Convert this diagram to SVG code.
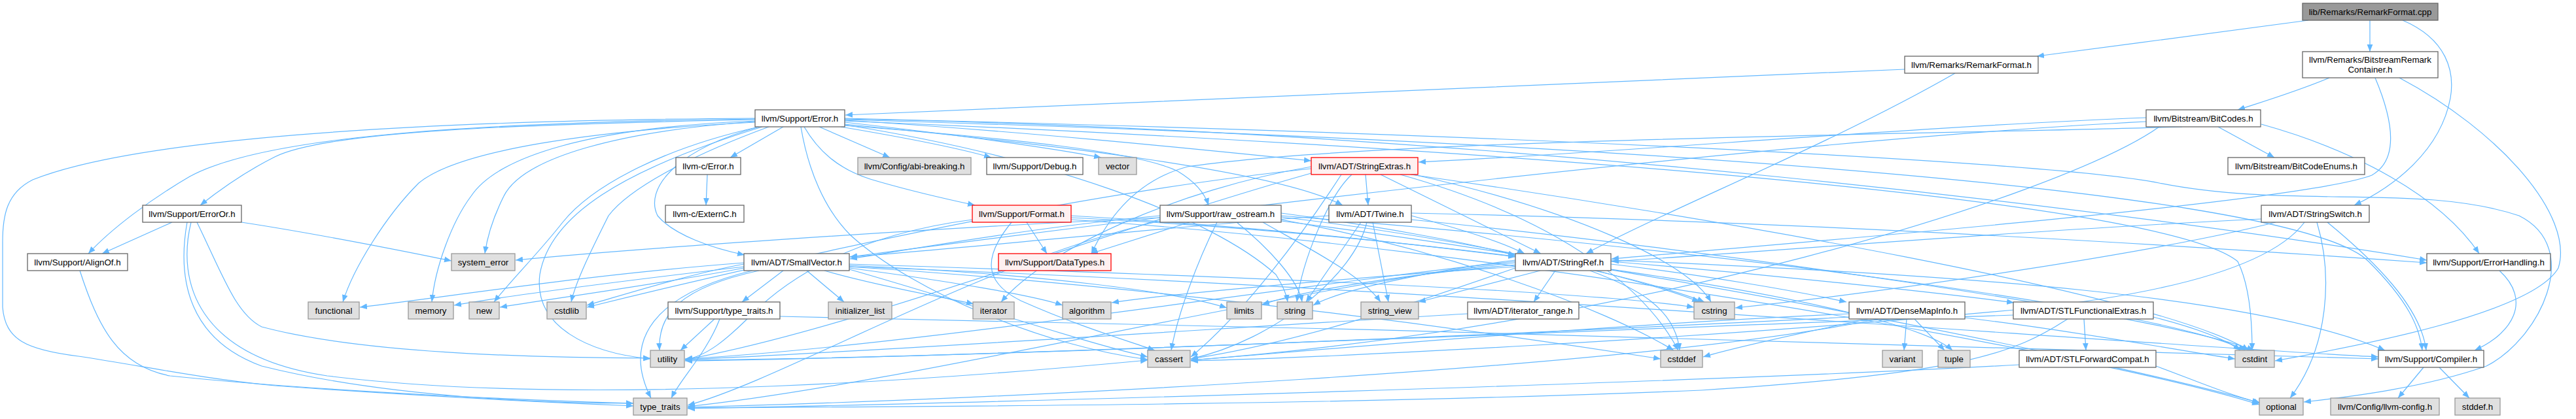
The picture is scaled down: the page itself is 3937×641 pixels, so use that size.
<svg xmlns="http://www.w3.org/2000/svg" width="3937" height="641" viewBox="0 0 3937 641">
<style>
rect{stroke-width:1.3}
.n rect{fill:#ffffff;stroke:#666666}
.g rect{fill:#e0e0e0;stroke:#999999}
.r rect{fill:#fff0f0;stroke:#ff0000}
.root rect{fill:#999999;stroke:#666666}
text{font-family:"Liberation Sans",Arial,sans-serif;font-size:13.3px;text-anchor:middle;fill:#000}
#edges path{fill:none;stroke:#63b8ff;stroke-width:1.2;marker-end:url(#a)}
</style>
<defs>
<marker id="a" viewBox="0 0 10 10" refX="10" refY="5" markerWidth="11" markerHeight="11" markerUnits="userSpaceOnUse" orient="auto"><path d="M0,1 L10,5 L0,9 z" fill="#63b8ff" stroke="none"/></marker>
</defs>
<rect width="3937" height="641" fill="#ffffff"/>
<g id="edges">
<path d="M3528,31 C3400,48 3250,68 3113,86"/>
<path d="M3622,31 L3622,79"/>
<path d="M3672,31 C3740,60 3752,110 3745,150 C3730,230 3660,285 3598,314"/>
<path d="M2911,106 C2400,128 1700,158 1292,176"/>
<path d="M2988,112 C2800,220 2550,320 2424,388"/>
<path d="M3560,119 C3510,140 3460,155 3420,168"/>
<path d="M3630,119 C3660,190 3665,245 3625,268 C3520,310 2700,375 2463,396"/>
<path d="M3667,119 C3820,200 3935,330 3910,410 C3870,480 3600,530 3477,552"/>
<path d="M3280,180 C2900,195 2500,232 2168,248"/>
<path d="M3280,186 C2700,215 1700,340 1299,393"/>
<path d="M3390,194 L3476,241"/>
<path d="M3335,194 C3000,205 2100,212 1815,255 C1740,275 1695,330 1668,388"/>
<path d="M3456,190 C3600,230 3730,300 3789,388"/>
<path d="M3300,194 C3150,300 2500,500 1820,551"/>
<path d="M3456,335 C3100,352 2700,385 2463,400"/>
<path d="M3478,340 C3300,385 2900,445 2652,471"/>
<path d="M3522,340 C3470,410 3300,450 3100,472 C2600,520 2000,548 1820,552"/>
<path d="M3541,340 C3565,420 3560,530 3500,609"/>
<path d="M3557,340 C3630,400 3700,470 3708,536"/>
<path d="M1197,194 L1116,241"/>
<path d="M1252,194 L1360,241"/>
<path d="M1285,194 C1380,210 1460,225 1515,241"/>
<path d="M1291,187 C1450,205 1600,225 1683,241"/>
<path d="M1291,184 C1550,200 1800,225 2004,246"/>
<path d="M1291,190 C1600,220 1950,260 2052,314"/>
<path d="M1291,192 C1550,212 1740,232 1800,262 C1830,280 1842,298 1847,314"/>
<path d="M1229,194 C1250,230 1280,258 1330,274 C1400,295 1450,305 1490,314"/>
<path d="M1154,183 C800,190 500,200 420,240 C370,265 330,295 306,314"/>
<path d="M1154,182 C700,188 400,210 290,270 C230,305 170,350 135,388"/>
<path d="M1154,181 C600,184 200,215 50,275 C10,295 4,330 4,370 L4,470 C8,520 40,535 120,545 C220,560 300,578 420,590 C650,607 850,616 968,621"/>
<path d="M1160,194 C1030,230 985,290 1005,330 C1030,360 1090,380 1138,390"/>
<path d="M1154,186 C950,200 800,240 770,300 C755,330 745,360 741,388"/>
<path d="M1154,185 C900,195 760,240 720,300 C690,340 665,410 660,462"/>
<path d="M1160,194 C1000,230 900,290 860,340 C825,385 780,430 755,462"/>
<path d="M1175,194 C1050,240 960,290 930,330 C905,380 880,430 873,462"/>
<path d="M1154,187 C900,200 700,230 640,280 C590,330 540,410 524,462"/>
<path d="M1165,194 C950,260 840,330 825,420 C815,500 900,540 994,549"/>
<path d="M1224,194 C1235,260 1260,320 1300,360 C1400,450 1600,530 1754,550"/>
<path d="M1291,185 C2200,222 3300,300 3420,400 C3440,440 3442,500 3442,536"/>
<path d="M1291,183 C2300,212 3500,280 3620,400 C3680,460 3698,500 3702,536"/>
<path d="M1291,182 C2300,200 3300,330 3709,398"/>
<path d="M1291,181 C2400,208 3150,250 3300,280 C3500,320 3700,280 3850,330 C3950,380 3880,520 3800,560 C3700,595 3580,608 3521,615"/>
<path d="M1291,191 C1600,240 1850,330 1950,420 C1962,440 1966,450 1968,462"/>
<path d="M263,340 L156,388"/>
<path d="M369,340 C500,360 620,385 690,399"/>
<path d="M301,340 C340,420 360,480 400,500 C550,540 800,547 994,548"/>
<path d="M286,340 C270,430 290,520 400,560 C600,610 850,617 968,617"/>
<path d="M292,340 C270,430 300,545 500,575 C900,625 1500,575 1754,551"/>
<path d="M122,414 C150,500 180,560 260,575 C500,600 850,614 968,617"/>
<path d="M1081,267 L1079,314"/>
<path d="M1569,340 L1600,388"/>
<path d="M1637,330 C1900,345 2150,372 2316,393"/>
<path d="M1546,340 C1505,390 1500,430 1560,460 C1650,500 1720,520 1765,536"/>
<path d="M1486,336 C1300,360 1200,430 1150,480 C1110,520 1080,545 1047,550"/>
<path d="M1637,336 C2300,380 3200,540 3453,619"/>
<path d="M1637,333 C2200,360 2900,460 2984,536"/>
<path d="M1818,340 L1667,388"/>
<path d="M1958,326 C2100,345 2250,372 2316,391"/>
<path d="M1773,330 C1600,345 1400,380 1299,396"/>
<path d="M1860,340 C1830,400 1800,480 1790,536"/>
<path d="M1958,336 C2200,380 2450,470 2558,536"/>
<path d="M1958,330 C2600,380 3300,470 3432,536"/>
<path d="M1958,332 C2200,360 2500,420 2605,462"/>
<path d="M1958,338 C2600,420 3300,570 3455,617"/>
<path d="M1890,340 C1940,380 1985,430 1990,462"/>
<path d="M1930,340 C2000,380 2080,420 2110,462"/>
<path d="M1773,333 C1400,350 950,382 788,398"/>
<path d="M1773,338 C1500,400 1200,580 1051,620"/>
<path d="M2031,330 C1800,345 1500,378 1299,393"/>
<path d="M2157,330 C2230,350 2290,368 2330,388"/>
<path d="M2157,326 C2800,340 3400,380 3709,402"/>
<path d="M2089,340 C2070,420 1950,520 1820,549"/>
<path d="M2157,336 C2600,380 3300,480 3445,536"/>
<path d="M2080,340 L1996,462"/>
<path d="M2098,340 L2122,462"/>
<path d="M2087,267 L2091,314"/>
<path d="M2110,267 L2355,388"/>
<path d="M2050,267 C1990,360 1900,480 1820,546"/>
<path d="M2066,267 C2030,300 1990,400 1982,462"/>
<path d="M2156,267 C2600,330 3300,450 3437,536"/>
<path d="M2160,267 C2400,320 2580,400 2615,462"/>
<path d="M2140,267 C2400,340 2520,450 2565,536"/>
<path d="M2004,258 C1600,300 1100,420 897,470"/>
<path d="M2004,255 C1800,290 1600,380 1530,462"/>
<path d="M2004,265 C1700,350 1300,505 1047,550"/>
<path d="M1298,408 C2200,440 3300,530 3635,546"/>
<path d="M1197,414 L1134,462"/>
<path d="M1298,410 C1450,430 1580,452 1624,467"/>
<path d="M1298,412 C1500,470 1650,522 1754,546"/>
<path d="M1298,408 C1800,440 2300,512 2538,549"/>
<path d="M1137,404 C1050,420 950,452 897,467"/>
<path d="M1298,404 C1800,420 2400,442 2589,470"/>
<path d="M1137,402 C900,420 700,452 550,470"/>
<path d="M1233,414 L1290,462"/>
<path d="M1260,414 C1350,440 1450,456 1488,465"/>
<path d="M1298,406 C1600,420 1800,447 1875,471"/>
<path d="M1137,408 C950,430 780,452 694,467"/>
<path d="M1137,410 C1000,436 850,456 764,470"/>
<path d="M1150,414 C1000,450 950,520 995,609"/>
<path d="M1160,414 C1040,440 1005,480 1008,536"/>
<path d="M1092,488 L1040,536"/>
<path d="M1100,488 C1080,540 1040,580 1026,609"/>
<path d="M1192,484 C2000,500 3200,532 3635,549"/>
<path d="M2462,404 C2600,420 2750,446 2822,462"/>
<path d="M2462,400 C2700,420 2950,446 3078,463"/>
<path d="M2377,414 L2344,462"/>
<path d="M2462,398 C3000,420 3450,452 3645,536"/>
<path d="M2316,408 C2100,422 1800,448 1699,463"/>
<path d="M2316,410 C2200,450 2000,522 1820,549"/>
<path d="M2430,414 C2500,440 2560,470 2567,536"/>
<path d="M2440,414 C2500,430 2560,446 2597,462"/>
<path d="M2316,405 C2150,420 2000,442 1929,466"/>
<path d="M2316,398 C2200,412 2050,442 2007,467"/>
<path d="M2354,414 L2168,462"/>
<path d="M2316,402 C2000,432 1400,585 1051,622"/>
<path d="M2316,400 C2000,432 1400,530 1047,549"/>
<path d="M3820,414 C3870,460 3840,510 3782,536"/>
<path d="M2243,480 C1900,500 1300,540 1047,550"/>
<path d="M2914,488 L2910,536"/>
<path d="M2926,488 L2972,536"/>
<path d="M2826,480 C2400,500 2000,537 1820,551"/>
<path d="M2855,488 C2750,510 2650,532 2603,546"/>
<path d="M3003,486 C3200,510 3350,540 3416,549"/>
<path d="M2870,488 C2500,565 1500,612 1051,623"/>
<path d="M2826,485 C2300,512 1500,547 1047,551"/>
<path d="M3185,488 L3188,536"/>
<path d="M3291,485 C3350,500 3400,518 3424,536"/>
<path d="M3160,488 C3080,540 3000,572 2600,597 C2000,622 1300,622 1051,624"/>
<path d="M3077,482 C2500,502 1500,547 1047,552"/>
<path d="M3295,560 C3350,580 3400,602 3453,616"/>
<path d="M3086,558 C2600,585 1500,617 1051,625"/>
<path d="M3704,562 L3665,609"/>
<path d="M3728,562 L3774,609"/>
</g>
<g id="n_RemarkFormat_cpp" class="root"><rect x="3519" y="5" width="207" height="26"/><text x="3622.5" y="22.6">lib/Remarks/RemarkFormat.cpp</text></g>
<g id="n_RemarkFormat_h" class="n"><rect x="2911" y="86" width="204" height="26"/><text x="3013" y="103.6">llvm/Remarks/RemarkFormat.h</text></g>
<g id="n_BitstreamRemarkContainer_h" class="n"><rect x="3519" y="79" width="207" height="40"/><text x="3622.5" y="95.5">llvm/Remarks/BitstreamRemark</text><text x="3622.5" y="111">Container.h</text></g>
<g id="n_Error_h" class="n"><rect x="1154" y="168" width="137" height="26"/><text x="1222.5" y="185.6">llvm/Support/Error.h</text></g>
<g id="n_BitCodes_h" class="n"><rect x="3280" y="168" width="175" height="26"/><text x="3367.5" y="185.6">llvm/Bitstream/BitCodes.h</text></g>
<g id="n_c_Error_h" class="n"><rect x="1033" y="241" width="99" height="26"/><text x="1082.5" y="258.6">llvm-c/Error.h</text></g>
<g id="n_abi_breaking_h" class="g"><rect x="1311" y="241" width="173" height="26"/><text x="1397.5" y="258.6">llvm/Config/abi-breaking.h</text></g>
<g id="n_Debug_h" class="n"><rect x="1508" y="241" width="147" height="26"/><text x="1581.5" y="258.6">llvm/Support/Debug.h</text></g>
<g id="n_vector" class="g"><rect x="1679" y="241" width="58" height="26"/><text x="1708" y="258.6">vector</text></g>
<g id="n_StringExtras_h" class="r"><rect x="2004" y="241" width="163" height="26"/><text x="2085.5" y="258.6">llvm/ADT/StringExtras.h</text></g>
<g id="n_BitCodeEnums_h" class="n"><rect x="3405" y="241" width="209" height="26"/><text x="3509.5" y="258.6">llvm/Bitstream/BitCodeEnums.h</text></g>
<g id="n_ErrorOr_h" class="n"><rect x="218" y="314" width="151" height="26"/><text x="293.5" y="331.6">llvm/Support/ErrorOr.h</text></g>
<g id="n_ExternC_h" class="n"><rect x="1017" y="314" width="120" height="26"/><text x="1077" y="331.6">llvm-c/ExternC.h</text></g>
<g id="n_Format_h" class="r"><rect x="1486" y="314" width="151" height="26"/><text x="1561.5" y="331.6">llvm/Support/Format.h</text></g>
<g id="n_raw_ostream_h" class="n"><rect x="1773" y="314" width="185" height="26"/><text x="1865.5" y="331.6">llvm/Support/raw_ostream.h</text></g>
<g id="n_Twine_h" class="n"><rect x="2031" y="314" width="126" height="26"/><text x="2094" y="331.6">llvm/ADT/Twine.h</text></g>
<g id="n_StringSwitch_h" class="n"><rect x="3456" y="314" width="165" height="26"/><text x="3538.5" y="331.6">llvm/ADT/StringSwitch.h</text></g>
<g id="n_AlignOf_h" class="n"><rect x="42" y="388" width="153" height="26"/><text x="118.5" y="405.6">llvm/Support/AlignOf.h</text></g>
<g id="n_system_error" class="g"><rect x="690" y="388" width="97" height="26"/><text x="738.5" y="405.6">system_error</text></g>
<g id="n_SmallVector_h" class="n"><rect x="1137" y="388" width="161" height="26"/><text x="1217.5" y="405.6">llvm/ADT/SmallVector.h</text></g>
<g id="n_DataTypes_h" class="r"><rect x="1526" y="388" width="172" height="26"/><text x="1612" y="405.6">llvm/Support/DataTypes.h</text></g>
<g id="n_StringRef_h" class="n"><rect x="2316" y="388" width="146" height="26"/><text x="2389" y="405.6">llvm/ADT/StringRef.h</text></g>
<g id="n_ErrorHandling_h" class="n"><rect x="3709" y="388" width="189" height="26"/><text x="3803.5" y="405.6">llvm/Support/ErrorHandling.h</text></g>
<g id="n_functional" class="g"><rect x="471" y="462" width="78" height="26"/><text x="510" y="479.6">functional</text></g>
<g id="n_memory" class="g"><rect x="624" y="462" width="69" height="26"/><text x="658.5" y="479.6">memory</text></g>
<g id="n_new" class="g"><rect x="717" y="462" width="46" height="26"/><text x="740" y="479.6">new</text></g>
<g id="n_cstdlib" class="g"><rect x="836" y="462" width="60" height="26"/><text x="866" y="479.6">cstdlib</text></g>
<g id="n_Support_type_traits_h" class="n"><rect x="1021" y="462" width="171" height="26"/><text x="1106.5" y="479.6">llvm/Support/type_traits.h</text></g>
<g id="n_initializer_list" class="g"><rect x="1266" y="462" width="97" height="26"/><text x="1314.5" y="479.6">initializer_list</text></g>
<g id="n_iterator" class="g"><rect x="1487" y="462" width="63" height="26"/><text x="1518.5" y="479.6">iterator</text></g>
<g id="n_algorithm" class="g"><rect x="1624" y="462" width="74" height="26"/><text x="1661" y="479.6">algorithm</text></g>
<g id="n_limits" class="g"><rect x="1875" y="462" width="53" height="26"/><text x="1901.5" y="479.6">limits</text></g>
<g id="n_string" class="g"><rect x="1952" y="462" width="54" height="26"/><text x="1979" y="479.6">string</text></g>
<g id="n_string_view" class="g"><rect x="2080" y="462" width="88" height="26"/><text x="2124" y="479.6">string_view</text></g>
<g id="n_iterator_range_h" class="n"><rect x="2243" y="462" width="170" height="26"/><text x="2328" y="479.6">llvm/ADT/iterator_range.h</text></g>
<g id="n_cstring" class="g"><rect x="2589" y="462" width="62" height="26"/><text x="2620" y="479.6">cstring</text></g>
<g id="n_DenseMapInfo_h" class="n"><rect x="2826" y="462" width="177" height="26"/><text x="2914.5" y="479.6">llvm/ADT/DenseMapInfo.h</text></g>
<g id="n_STLFunctionalExtras_h" class="n"><rect x="3077" y="462" width="214" height="26"/><text x="3184" y="479.6">llvm/ADT/STLFunctionalExtras.h</text></g>
<g id="n_utility" class="g"><rect x="994" y="536" width="52" height="26"/><text x="1020" y="553.6">utility</text></g>
<g id="n_cassert" class="g"><rect x="1754" y="536" width="65" height="26"/><text x="1786.5" y="553.6">cassert</text></g>
<g id="n_cstddef" class="g"><rect x="2538" y="536" width="64" height="26"/><text x="2570" y="553.6">cstddef</text></g>
<g id="n_variant" class="g"><rect x="2877" y="536" width="61" height="26"/><text x="2907.5" y="553.6">variant</text></g>
<g id="n_tuple" class="g"><rect x="2962" y="536" width="49" height="26"/><text x="2986.5" y="553.6">tuple</text></g>
<g id="n_STLForwardCompat_h" class="n"><rect x="3086" y="536" width="209" height="26"/><text x="3190.5" y="553.6">llvm/ADT/STLForwardCompat.h</text></g>
<g id="n_cstdint" class="g"><rect x="3416" y="536" width="60" height="26"/><text x="3446" y="553.6">cstdint</text></g>
<g id="n_Compiler_h" class="n"><rect x="3635" y="536" width="161" height="26"/><text x="3715.5" y="553.6">llvm/Support/Compiler.h</text></g>
<g id="n_type_traits" class="g"><rect x="968" y="609" width="82" height="26"/><text x="1009" y="626.6">type_traits</text></g>
<g id="n_optional" class="g"><rect x="3453" y="609" width="67" height="26"/><text x="3486.5" y="626.6">optional</text></g>
<g id="n_llvm_config_h" class="g"><rect x="3562" y="609" width="166" height="26"/><text x="3645" y="626.6">llvm/Config/llvm-config.h</text></g>
<g id="n_stddef_h" class="g"><rect x="3752" y="609" width="69" height="26"/><text x="3786.5" y="626.6">stddef.h</text></g>
</svg>
